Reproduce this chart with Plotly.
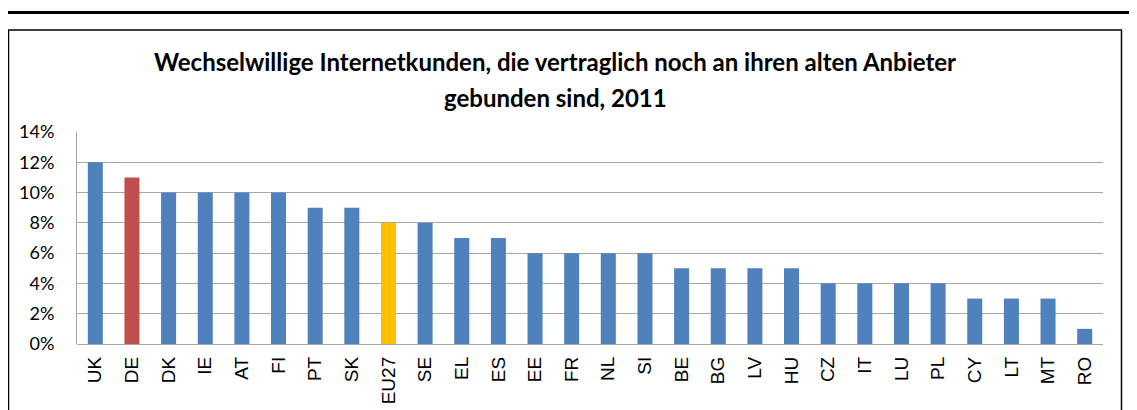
import plotly.graph_objects as go

categories = ["UK", "DE", "DK", "IE", "AT", "FI", "PT", "SK", "EU27", "SE", "EL", "ES", "EE", "FR",
              "NL", "SI", "BE", "BG", "LV", "HU", "CZ", "IT", "LU", "PL", "CY", "LT", "MT", "RO"]
values = [0.12, 0.11, 0.10, 0.10, 0.10, 0.10, 0.09, 0.09, 0.08, 0.08, 0.07, 0.07, 0.06, 0.06,
          0.06, 0.06, 0.05, 0.05, 0.05, 0.05, 0.04, 0.04, 0.04, 0.04, 0.03, 0.03, 0.03, 0.01]
highlight = {"DE": "#C0504D", "EU27": "#FFC000"}
base_color = "#4F81BD"
colors = [highlight.get(c, base_color) for c in categories]

title_lines = ["Wechselwillige Internetkunden, die vertraglich noch an ihren alten Anbieter",
               "gebunden sind, 2011"]

fig = go.Figure(go.Bar(x=categories, y=values, marker=dict(color=colors, line=dict(width=0)),
                       width=0.41))

# page has an 8px body margin, so figure coords = page coords - 8
OFF = 8
L, R, T, B = 77 - OFF, 1103 - OFF, 132 - OFF, 344 - OFF
W, H = 1137 - OFF, 410 - OFF
pw, ph = R - L, B - T

def px(x):
    return (x - OFF - L) / pw

def py(y):
    return (B - (y - OFF)) / ph

title_y = [62, 97]
annotations = [
    dict(text=t, xref="paper", yref="paper", x=px(555), y=py(yy), xanchor="center", yanchor="middle",
         showarrow=False, font=dict(family="Lato", size=24, color="black", weight="bold"))
    for t, yy in zip(title_lines, title_y)
]

fig.update_layout(
    width=W, height=H,
    margin=dict(l=L, r=W - R, t=T, b=H - B, autoexpand=False),
    paper_bgcolor="white", plot_bgcolor="white",
    showlegend=False,
    annotations=annotations,
    xaxis=dict(tickangle=-90, tickfont=dict(family="Liberation Sans", size=19, color="black"),
               showline=False, ticks="", showgrid=False, ticklabelstandoff=8, automargin=False),
    yaxis=dict(range=[0, 0.14], dtick=0.02, tickformat=".0%",
               tickfont=dict(family="Lato", size=18, color="black"),
               showgrid=True, gridcolor="#A6A6A6", gridwidth=1,
               showline=True, linecolor="#A6A6A6", linewidth=1,
               zeroline=True, zerolinecolor="#A6A6A6", zerolinewidth=1,
               ticks="", ticklabelstandoff=18, automargin=False),
    shapes=[
        dict(type="line", xref="paper", yref="paper", x0=px(8), x1=px(1137), y0=py(12.5), y1=py(12.5),
             line=dict(color="black", width=3)),
        dict(type="rect", xref="paper", yref="paper", x0=px(8.5), x1=px(1121.5), y0=py(425), y1=py(30),
             line=dict(color="black", width=1.5), layer="below"),
    ],
)

fig.write_html("out.html")
